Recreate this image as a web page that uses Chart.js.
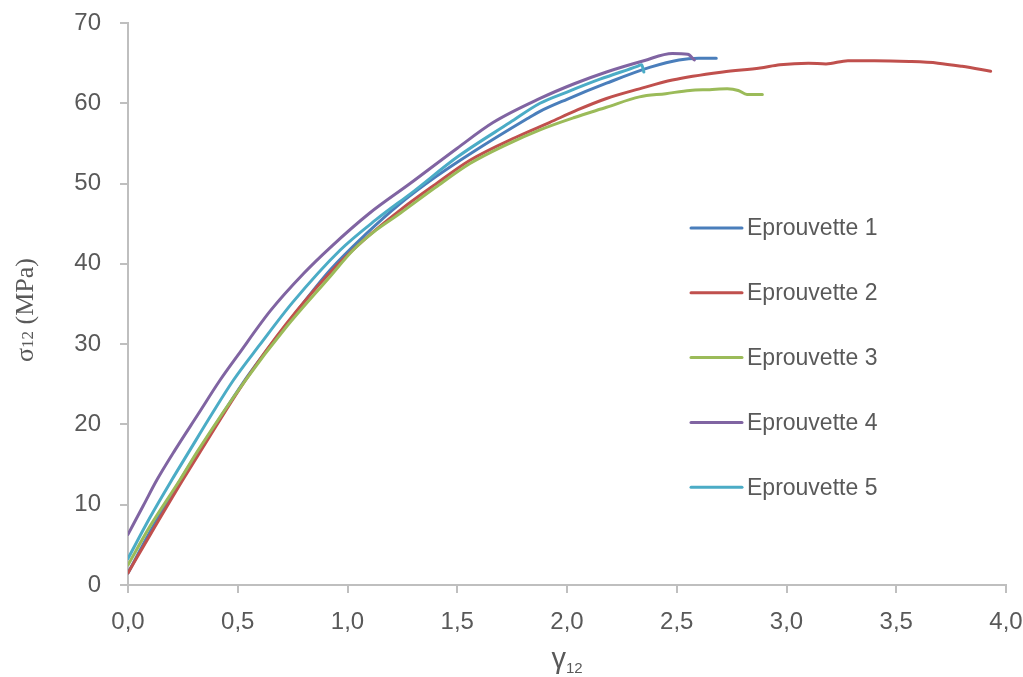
<!DOCTYPE html>
<html>
<head>
<meta charset="utf-8">
<script src="https://cdn.jsdelivr.net/npm/chart.js@4.4.1/dist/chart.umd.min.js"></script>
<style>
  html, body { margin: 0; padding: 0; background: #fff; }
  #wrap { width: 1023px; height: 677px; }
</style>
</head>
<body>
<div id="wrap"><canvas id="chart" width="1023" height="677"></canvas></div>
<script>
// valeurs (gamma12 en %, sigma12 en MPa)
const seriesNames = ['Eprouvette 1', 'Eprouvette 2', 'Eprouvette 3', 'Eprouvette 4', 'Eprouvette 5'];
const seriesColors = ['#4A7EBB', '#C0504D', '#9BBB59', '#8064A2', '#4BACC6'];

const ep1X = [0, 0.1, 0.25, 0.4, 0.55, 0.75, 0.92, 1.08, 1.24, 1.4, 1.57, 1.82, 1.877, 2.0, 2.18, 2.38, 2.51, 2.6, 2.68];
const ep1Y = [1.5, 6.6, 13.6, 20.0, 26.2, 33.4, 39.2, 43.6, 47.5, 50.8, 53.9, 58.1, 59.0, 60.5, 62.5, 64.5, 65.4, 65.6, 65.6];

const ep2X = [0, 0.1, 0.25, 0.32, 0.535, 0.72, 0.92, 1.08, 1.24, 1.4, 1.558, 1.77, 1.92, 2.05, 2.18, 2.33, 2.48, 2.71, 2.88, 2.97, 3.1, 3.18, 3.28, 3.4, 3.56, 3.69, 3.8, 3.93];
const ep2Y = [1.5, 6.2, 13.1, 16.2, 25.5, 32.5, 38.9, 43.1, 46.7, 49.9, 52.9, 55.8, 57.6, 59.2, 60.6, 61.8, 62.9, 63.9, 64.4, 64.8, 65.0, 64.9, 65.3, 65.3, 65.2, 65.0, 64.6, 64.0];

const ep3X = [0, 0.1, 0.237, 0.32, 0.535, 0.72, 0.92, 1.025, 1.13, 1.24, 1.4, 1.558, 1.72, 1.877, 2.03, 2.18, 2.33, 2.45, 2.56, 2.65, 2.73, 2.78, 2.82, 2.89];
const ep3Y = [2.5, 7.3, 13.1, 16.8, 25.5, 32.1, 38.4, 41.7, 44.2, 46.3, 49.5, 52.5, 54.8, 56.7, 58.2, 59.5, 60.8, 61.2, 61.6, 61.7, 61.8, 61.6, 61.1, 61.1];

const ep4X = [0, 0.07, 0.132, 0.214, 0.32, 0.419, 0.5, 0.65, 0.8, 0.92, 1.1, 1.285, 1.5, 1.663, 1.877, 2.03, 2.18, 2.35, 2.48, 2.55, 2.58];
const ep4Y = [6.3, 9.9, 13.1, 16.8, 21.3, 25.5, 28.6, 34.2, 38.8, 42.0, 46.3, 50.0, 54.4, 57.6, 60.6, 62.4, 63.9, 65.3, 66.2, 66.1, 65.4];

const ep5X = [0, 0.1, 0.2, 0.282, 0.38, 0.48, 0.6, 0.75, 0.966, 1.13, 1.3, 1.5, 1.74, 1.877, 2.0, 2.15, 2.32, 2.34, 2.35];
const ep5Y = [3.3, 8.4, 13.1, 16.8, 21.2, 25.5, 29.9, 35.2, 41.7, 45.5, 49.0, 53.3, 57.6, 60.0, 61.4, 63.0, 64.6, 64.8, 63.9];

const xTicks = [0, 0.5, 1.0, 1.5, 2.0, 2.5, 3.0, 3.5, 4.0];
const yTicks = [0, 10, 20, 30, 40, 50, 60, 70];

const allX = [ep1X, ep2X, ep3X, ep4X, ep5X];
const allY = [ep1Y, ep2Y, ep3Y, ep4Y, ep5Y];

const TXT = '#595959';
const AXIS = '#BFBFBF';

const datasets = seriesNames.map((name, i) => ({
    label: name,
    data: allX[i].map((x, j) => ({ x, y: allY[i][j] })),
    borderColor: seriesColors[i],
    backgroundColor: seriesColors[i],
    borderWidth: 3,
    pointRadius: 0,
    cubicInterpolationMode: 'monotone',
    borderJoinStyle: 'round',
    borderCapStyle: 'round',
    order: seriesNames.length - i   // la derniere serie au-dessus, comme Excel
}));

// legende a l'interieur du graphe
const legendBox = {
    id: 'legendBox',
    afterDatasetsDraw(chart) {
        const ctx = chart.ctx;
        ctx.save();
        ctx.font = '23px "Liberation Sans", Arial, sans-serif';
        ctx.textBaseline = 'middle';
        seriesNames.forEach((name, i) => {
            const y = 228 + i * 64.8;
            ctx.strokeStyle = seriesColors[i];
            ctx.lineWidth = 3;
            ctx.lineCap = 'round';
            ctx.beginPath();
            ctx.moveTo(691, y);
            ctx.lineTo(742, y);
            ctx.stroke();
            ctx.fillStyle = TXT;
            ctx.fillText(name, 747, y + 1);
        });
        ctx.restore();
    }
};

// titres des axes avec indices
const axisTitles = {
    id: 'axisTitles',
    afterDraw(chart) {
        const ctx = chart.ctx;
        ctx.save();
        ctx.fillStyle = TXT;
        ctx.textBaseline = 'alphabetic';

        // axe x : gamma12
        ctx.font = '29px "Liberation Sans", Arial, sans-serif';
        const g = 'γ';
        const gw = ctx.measureText(g).width;
        ctx.font = '15px "Liberation Sans", Arial, sans-serif';
        const sw = ctx.measureText('12').width;
        const x0 = (chart.chartArea.left + chart.chartArea.right) / 2 - (gw + sw) / 2;
        ctx.font = '29px "Liberation Sans", Arial, sans-serif';
        ctx.fillText(g, x0, 668);
        ctx.font = '15px "Liberation Sans", Arial, sans-serif';
        ctx.fillText('12', x0 + gw, 673);

        // axe y : sigma12 (MPa)
        ctx.translate(33, 310);
        ctx.rotate(-Math.PI / 2);
        const big = '26px "Liberation Serif", "Times New Roman", serif';
        const small = '17px "Liberation Serif", "Times New Roman", serif';
        ctx.font = big;
        const w1 = ctx.measureText('σ').width;
        const w3 = ctx.measureText(' (MPa)').width;
        ctx.font = small;
        const w2 = ctx.measureText('12').width;
        let px = -(w1 + w2 + w3) / 2;
        ctx.font = big;
        ctx.fillText('σ', px, 0);
        px += w1;
        ctx.font = small;
        ctx.fillText('12', px, 0);
        px += w2;
        ctx.font = big;
        ctx.fillText(' (MPa)', px, 0);
        ctx.restore();
    }
};

new Chart(document.getElementById('chart'), {
    type: 'line',
    data: { datasets },
    plugins: [legendBox, axisTitles],
    options: {
        responsive: false,
        animation: false,
        layout: { padding: { left: 0, right: 17, top: 23, bottom: 0 } },
        plugins: {
            legend: { display: false },
            tooltip: { enabled: false }
        },
        scales: {
            x: {
                type: 'linear',
                min: 0,
                max: 4,
                afterBuildTicks: s => { s.ticks = xTicks.map(v => ({ value: v })); },
                afterFit: s => { s.height = 92; s.paddingLeft = 0; s.paddingRight = 0; },
                ticks: {
                    color: TXT,
                    font: { family: '"Liberation Sans", Arial, sans-serif', size: 24 },
                    padding: 15,
                    maxRotation: 0,
                    callback: v => v.toFixed(1).replace('.', ',')
                },
                grid: { drawOnChartArea: false, drawTicks: true, tickLength: 8, color: AXIS, lineWidth: 2 },
                border: { color: AXIS, width: 2 }
            },
            y: {
                min: 0,
                max: 70,
                afterBuildTicks: s => { s.ticks = yTicks.map(v => ({ value: v })); },
                afterFit: s => { s.width = 128; s.paddingTop = 0; s.paddingBottom = 0; },
                ticks: {
                    color: TXT,
                    font: { family: '"Liberation Sans", Arial, sans-serif', size: 24 },
                    padding: 19
                },
                grid: { drawOnChartArea: false, drawTicks: true, tickLength: 8, color: AXIS, lineWidth: 2 },
                border: { color: AXIS, width: 2 }
            }
        }
    }
});
</script>
</body>
</html>
